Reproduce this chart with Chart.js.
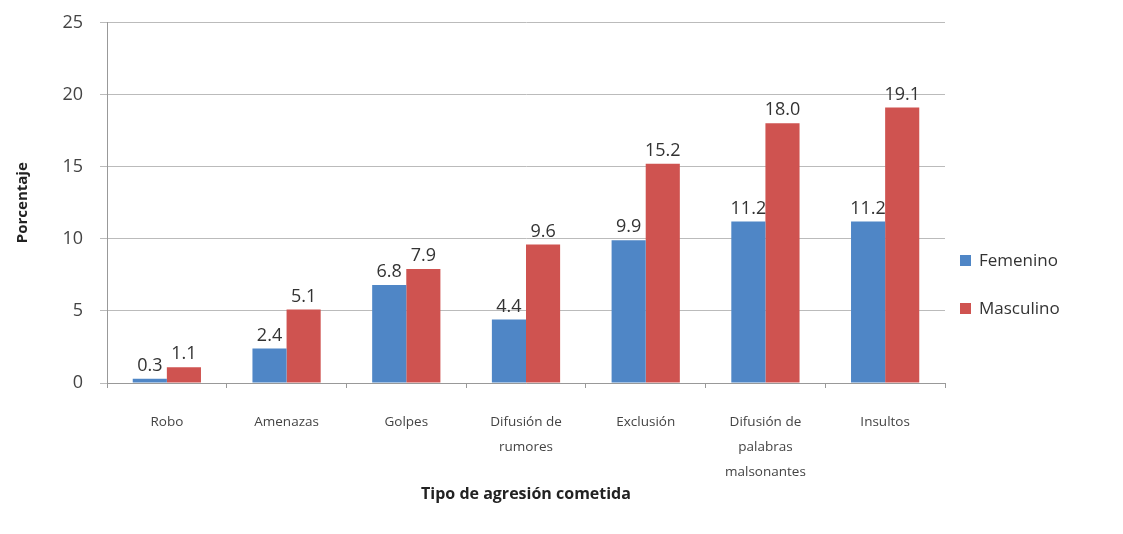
<!DOCTYPE html>
<html>
<head>
<meta charset="utf-8">
<script src="https://cdn.jsdelivr.net/npm/chart.js@4"></script>
<style>
  html, body { margin: 0; padding: 0; background: #fff; }
  #wrap { position: relative; width: 1123px; height: 534px; }
  #legend { position: absolute; left: 960px; top: 248px; font-family: "Open Sans", sans-serif; font-size: 17px; color: #333; }
  #legend div { height: 24px; line-height: 24px; margin-bottom: 24px; display: flex; align-items: center; }
  #legend span.box { display: inline-block; width: 11px; height: 11px; margin-right: 8px; }
</style>
</head>
<body>
<div id="wrap">
  <canvas id="chart" width="1123" height="534"></canvas>
  <div id="legend"></div>
</div>
<script>
const categories = ["Robo", "Amenazas", "Golpes", ["Difusión de", "rumores"], "Exclusión", ["Difusión de", "palabras", "malsonantes"], "Insultos"];
const femenino = [0.3, 2.4, 6.8, 4.4, 9.9, 11.2, 11.2];
const masculino = [1.1, 5.1, 7.9, 9.6, 15.2, 18.0, 19.1];
const seriesNames = ["Femenino", "Masculino"];
const seriesColors = ["#4f86c6", "#cf5350"];

const font = "'Open Sans', sans-serif";

const valueLabels = {
  id: "valueLabels",
  afterDatasetsDraw(chart) {
    const ctx = chart.ctx;
    ctx.save();
    ctx.font = "18px " + font;
    ctx.fillStyle = "#333";
    ctx.textAlign = "center";
    ctx.textBaseline = "bottom";
    chart.data.datasets.forEach((ds, i) => {
      chart.getDatasetMeta(i).data.forEach((bar, j) => {
        ctx.fillText(Number(ds.data[j]).toFixed(1), bar.x, bar.y - 4);
      });
    });
    ctx.restore();
  }
};

new Chart(document.getElementById("chart"), {
  type: "bar",
  data: {
    labels: categories,
    datasets: [
      { label: seriesNames[0], data: femenino, backgroundColor: seriesColors[0] },
      { label: seriesNames[1], data: masculino, backgroundColor: seriesColors[1] }
    ]
  },
  options: {
    responsive: false,
    animation: false,
    categoryPercentage: 0.57,
    barPercentage: 1,
    layout: { padding: { top: 16, right: 178, left: 0, bottom: 0 } },
    plugins: { legend: { display: false }, tooltip: { enabled: false } },
    scales: {
      x: {
        grid: { drawOnChartArea: false, drawTicks: true, tickLength: 5, offset: true, color: "#999" },
        border: { color: "#999" },
        ticks: { font: { family: font, size: 13.5, lineHeight: 1.85 }, color: "#444", padding: 22, maxRotation: 0, autoSkip: false },
        title: { display: true, text: "Tipo de agresión cometida", font: { family: font, size: 16, weight: "bold" }, color: "#222", padding: { top: 0, bottom: 30 } },
        afterFit(scale) { scale.height = 151; }
      },
      y: {
        min: 0,
        max: 25,
        ticks: { stepSize: 5, font: { family: font, size: 18, lineHeight: 0.6 }, color: "#444", padding: 17 },
        grid: { color: "#bbb", tickLength: 7 },
        border: { color: "#999" },
        title: { display: true, text: "Porcentaje", font: { family: font, size: 15, weight: "bold" }, color: "#222", padding: { top: 14, bottom: 0 } },
        afterFit(scale) { scale.width = 107; }
      }
    }
  },
  plugins: [valueLabels]
});

document.getElementById("legend").innerHTML = seriesNames.map((n, i) =>
  `<div><span class="box" style="background:${seriesColors[i]}"></span>${n}</div>`).join("");
</script>
</body>
</html>
